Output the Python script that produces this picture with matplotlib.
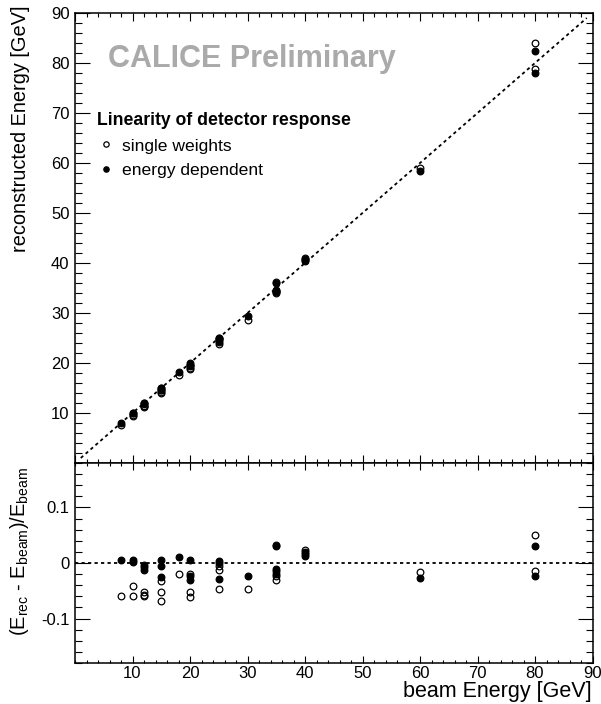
import numpy as np
import matplotlib
matplotlib.use('Agg')
import matplotlib.pyplot as plt
from matplotlib.ticker import MultipleLocator

plt.rcParams['font.family'] = ['Liberation Sans', 'DejaVu Sans']
plt.rcParams['mathtext.default'] = 'regular'

# residuals (E_rec - E_beam)/E_beam
beam_single = [8, 10, 10, 12, 12, 12, 15, 15, 15, 18, 20, 20, 20,
               25, 25, 25, 30, 35, 35, 35, 40, 40, 60, 80, 80]
res_single = [-0.059, -0.041, -0.059, -0.053, -0.057, -0.060, -0.033, -0.053, -0.068,
              -0.020, -0.019, -0.053, -0.062, -0.005, -0.012, -0.046, -0.046,
              0.033, -0.024, -0.031, 0.024, 0.017, -0.016, 0.051, -0.014]

beam_edep = [8, 10, 10, 12, 12, 12, 15, 15, 15, 18, 20, 20, 20,
             25, 25, 25, 30, 35, 35, 35, 35, 40, 40, 60, 80, 80]
res_edep = [0.005, 0.006, 0.001, -0.003, -0.008, -0.013, 0.006, -0.006, -0.025,
            0.010, 0.005, -0.024, -0.031, 0.004, 0.000, -0.029, -0.023,
            0.031, -0.010, -0.015, -0.019, 0.019, 0.012, -0.027, 0.030, -0.024]

diag_range = [1, 89]

beam_single = np.array(beam_single, dtype=float)
beam_edep = np.array(beam_edep, dtype=float)
reco_single = beam_single * (1 + np.array(res_single))
reco_edep = beam_edep * (1 + np.array(res_edep))

W, H = 601, 704
fig = plt.figure(figsize=(W / 100, H / 100), dpi=100)
ax1 = fig.add_axes([75 / W, 1 - 463 / H, 517.5 / W, 450 / H])
ax2 = fig.add_axes([75 / W, 1 - 663 / H, 517.5 / W, 200 / H])

mk = dict(ls='none', marker='o', ms=4.8, mew=0.9, color='black')

# top panel
ax1.plot(diag_range, diag_range, color='black', lw=1.3, ls=(0, (1.8, 1.8)))
l1, = ax1.plot(beam_single, reco_single, mfc='none', label='single weights', **mk)
l2, = ax1.plot(beam_edep, reco_edep, label='energy dependent', **mk)
ax1.set_xlim(0, 90)
ax1.set_ylim(0, 90)
ax1.xaxis.set_major_locator(MultipleLocator(10))
ax1.xaxis.set_minor_locator(MultipleLocator(2))
ax1.yaxis.set_major_locator(MultipleLocator(10))
ax1.yaxis.set_minor_locator(MultipleLocator(2))
ax1.set_yticks(range(10, 91, 10))
ax1.tick_params(axis='x', labelbottom=False)

# bottom panel
ax2.axhline(0, color='black', lw=1.3, ls=(0, (1.8, 1.8)))
ax2.plot(beam_single, res_single, mfc='none', **mk)
ax2.plot(beam_edep, res_edep, **mk)
ax2.set_xlim(0, 90)
ax2.set_ylim(-0.18, 0.18)
ax2.set_xticks(range(10, 91, 10))
ax2.xaxis.set_minor_locator(MultipleLocator(2))
ax2.set_yticks([-0.1, 0, 0.1])
ax2.set_yticklabels(['-0.1', '0', '0.1'])
ax2.yaxis.set_minor_locator(MultipleLocator(0.02))

for ax in (ax1, ax2):
    for s in ax.spines.values():
        s.set_linewidth(1.1)
    ax.tick_params(which='both', direction='in', top=True, right=True,
                   labelsize=12, width=0.8, pad=4)
    ax.tick_params(axis='y', which='major', length=10.5)
    ax.tick_params(axis='y', which='minor', length=5.3)
ax1.tick_params(axis='x', which='major', length=6)
ax1.tick_params(axis='x', which='minor', length=3)
ax2.tick_params(axis='x', which='major', length=5, pad=2.5)
ax2.tick_params(axis='x', which='minor', length=2.5)

# labels
fig.text(21 / W, 1 - 5 / H, 'reconstructed Energy [GeV]', rotation=90,
         ha='center', va='top', fontsize=14.4)
fig.text(20 / W, 1 - 467 / H, r'(E$_{rec}$ - E$_{beam}$)/E$_{beam}$', rotation=90,
         ha='center', va='top', fontsize=14.4)
fig.text(592 / W, 1 - 697 / H, 'beam Energy [GeV]', ha='right', va='baseline',
         fontsize=15.5)

fig.text(108 / W, 1 - 67 / H, 'CALICE Preliminary', fontsize=22, fontweight='bold',
         color='#aaaaaa', va='baseline')

leg = ax1.legend(handles=[l1, l2], title='Linearity of detector response',
                 title_fontproperties={'weight': 'bold', 'size': 12.7},
                 alignment='left', frameon=False, fontsize=12.6,
                 loc='upper left', bbox_to_anchor=(97 / W, 1 - 112 / H),
                 bbox_transform=fig.transFigure, borderpad=0, borderaxespad=0,
                 handlelength=1.0, handletextpad=0.45, labelspacing=0.53,
                 markerscale=0.8)

fig.savefig('out.png', dpi=100)
